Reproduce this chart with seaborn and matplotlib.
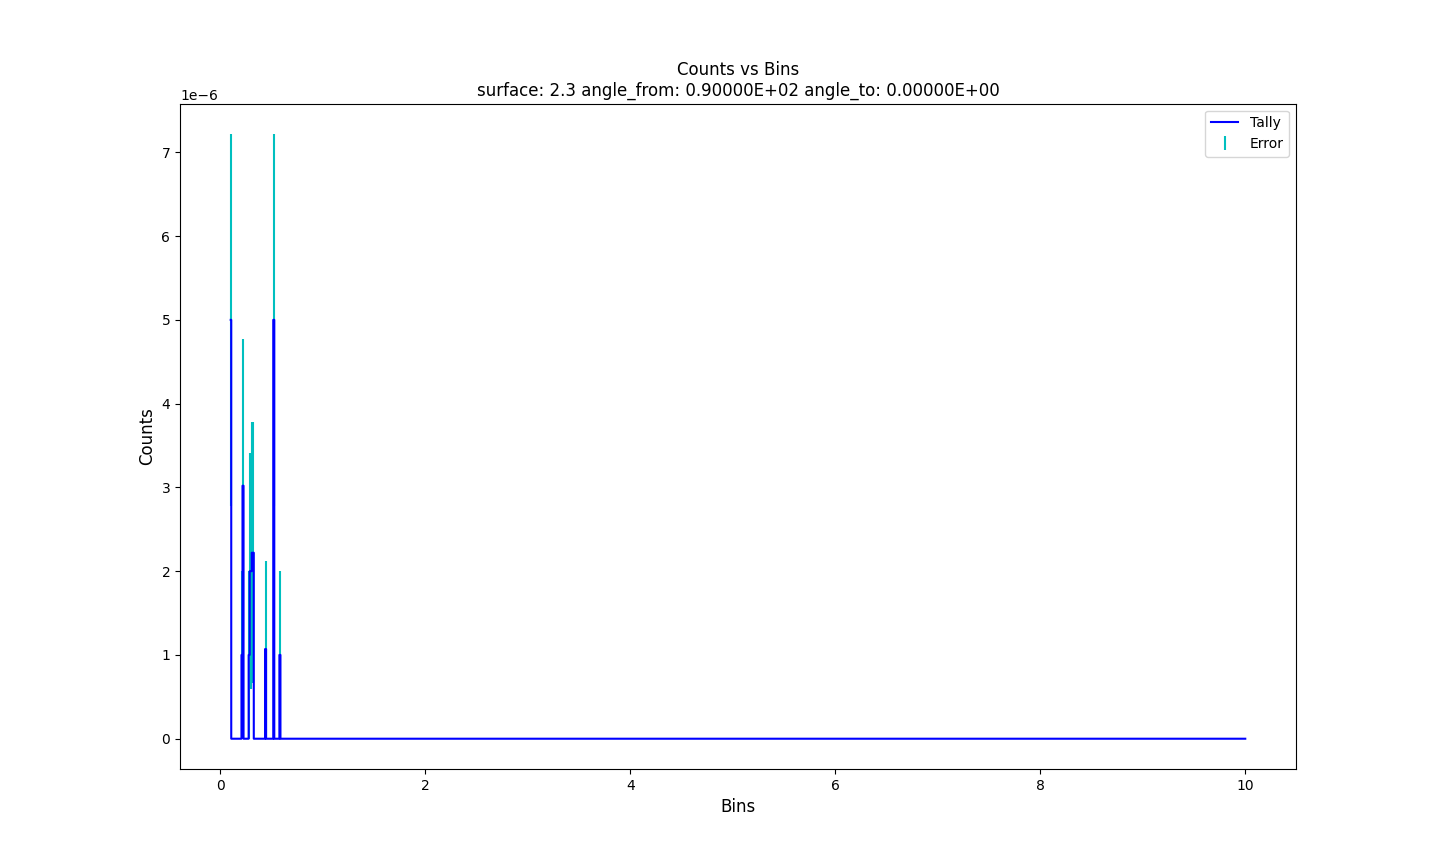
import numpy as np
import pandas as pd
import matplotlib
matplotlib.use("Agg")
import matplotlib.pyplot as plt
import seaborn as sns

# ---------------------------------------------
# Tally data: 0.01 wide bins from 0.10 to 10.00, mostly empty
# ---------------------------------------------
bin_first = 0.10
bin_width = 0.01
n_bins = 991

peak_bins = [0.10, 0.21, 0.22, 0.28, 0.29, 0.30, 0.31, 0.32, 0.44, 0.52, 0.58]
peak_counts = [5.00, 1.00, 3.02, 1.00, 2.00, 2.00, 2.22, 2.22, 1.07, 5.00, 1.00]
peak_errors = [2.22, 1.00, 1.75, 1.00, 1.41, 1.41, 1.56, 1.56, 1.05, 2.22, 1.00]

surface = "2.3"
angle_from = "0.90000E+02"
angle_to = "0.00000E+00"

bins = np.round(bin_first + bin_width * np.arange(n_bins), 2)
counts = np.zeros(n_bins)
for b, c in zip(peak_bins, peak_counts):
    counts[np.argmin(np.abs(bins - b))] = c * 1e-6

df = pd.DataFrame({"Bins": bins, "Counts": counts})
err_df = pd.DataFrame({"Bins": peak_bins,
                       "Counts": np.array(peak_counts) * 1e-6,
                       "Error": np.array(peak_errors) * 1e-6})

# ---------------------------------------------
# Plot (tally line sits on top of the error bars)
# ---------------------------------------------
fig, ax = plt.subplots(figsize=(14.4, 8.64), dpi=100)
sns.lineplot(data=df, x="Bins", y="Counts", ax=ax, color="b",
             drawstyle="steps-mid", label="Tally", linewidth=1.5, zorder=3)
ax.errorbar(err_df["Bins"], err_df["Counts"], yerr=err_df["Error"],
            fmt="none", ecolor="c", label="Error", zorder=2)

ax.set_title(f"Counts vs Bins\nsurface: {surface} angle_from: {angle_from} angle_to: {angle_to}")
ax.set_xlabel("Bins", fontsize=12)
ax.set_ylabel("Counts", fontsize=12)
ax.legend(loc="upper right")

plt.savefig("out.png", dpi=100)
